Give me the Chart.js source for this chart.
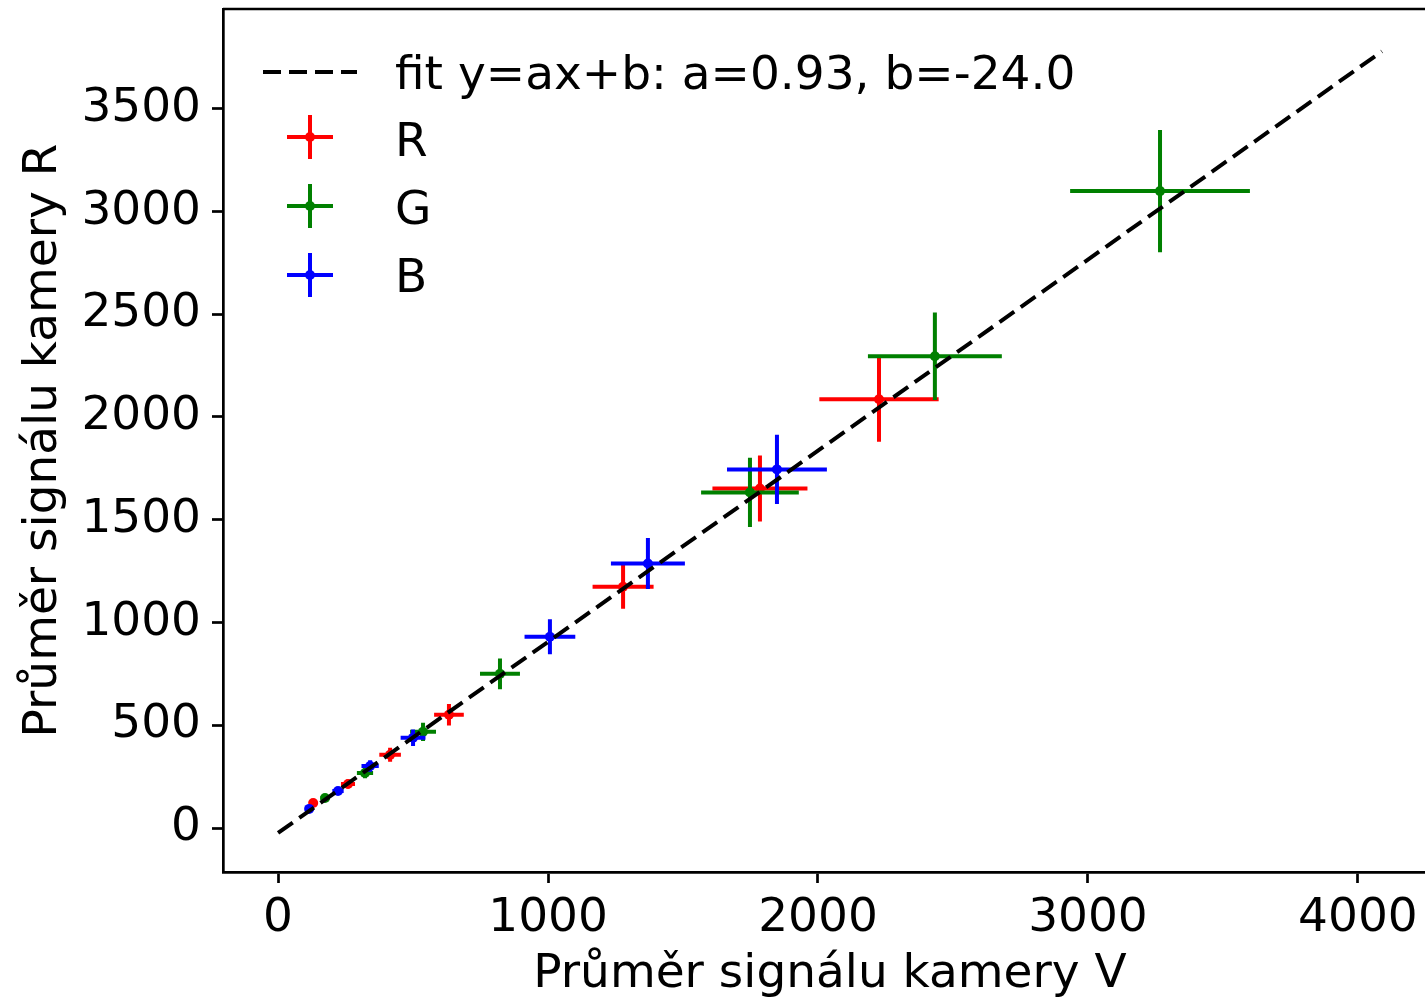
<!DOCTYPE html>
<html>
<head>
<meta charset="utf-8">
<script src="https://cdn.jsdelivr.net/npm/chart.js@4"></script>
<style>
html,body{margin:0;padding:0;background:#fff;overflow:hidden;}
canvas{display:block;}
</style>
</head>
<body>
<canvas id="c" width="1445" height="1002" style="width:1445px;height:1002px"></canvas>
<script>
// ---- data ----
const seriesNames = ['R', 'G', 'B'];
const seriesColors = ['#ff0000', '#008000', '#0000ff'];

const rX    = [130, 259, 415, 633, 1278, 1785, 2226];
const rY    = [122, 214, 356, 551, 1174, 1652, 2086];
const rXErr = [13, 26, 40, 55, 113, 176, 221];
const rYErr = [12, 21, 34, 52, 107, 161, 207];

const gX    = [174, 322, 537, 822, 1748, 2433, 3267];
const gY    = [146, 268, 468, 750, 1633, 2295, 3099];
const gXErr = [17, 30, 48, 74, 181, 248, 333];
const gYErr = [14, 26, 44, 75, 168, 213, 297];

const bX    = [115, 222, 341, 500, 1007, 1370, 1848];
const bY    = [93, 180, 302, 439, 931, 1287, 1745];
const bXErr = [12, 21, 32, 46, 94, 137, 185];
const bYErr = [10, 17, 28, 40, 85, 124, 168];

const fitA = 0.93;
const fitB = -24.0;
const fitXRange = [0, 4089];
const fitLabel = 'fit y=ax+b: a=0.93, b=-24.0';

const xTicks = [0, 1000, 2000, 3000, 4000];
const yTicks = [0, 500, 1000, 1500, 2000, 2500, 3000, 3500];
const xRange = [-204, 4293];
const yRange = [-214, 3985];

const xTitle = 'Průměr signálu kamery V';
const yTitle = 'Průměr signálu kamery R';

// ---- build datasets ----
function pts(xs, ys) { return xs.map((x, i) => ({x: x, y: ys[i]})); }
const allX = [rX, gX, bX], allY = [rY, gY, bY];
const allXE = [rXErr, gXErr, bXErr], allYE = [rYErr, gYErr, bYErr];

const FONT = "'DejaVu Sans', 'Liberation Sans', sans-serif";

const datasets = [{
  type: 'line',
  label: fitLabel,
  data: fitXRange.map(x => ({x: x, y: fitA * x + fitB})),
  borderColor: '#000',
  borderWidth: 4,
  borderDash: [18, 8],
  pointRadius: 0,
  showLine: true,
  fill: false,
  order: 0
}];
seriesNames.forEach((n, i) => {
  datasets.push({
    type: 'scatter',
    label: n,
    data: pts(allX[i], allY[i]),
    xErr: allXE[i],
    yErr: allYE[i],
    backgroundColor: seriesColors[i],
    borderColor: seriesColors[i],
    pointRadius: 5,
    pointBorderWidth: 0,
    order: 3 - i
  });
});

const errorBars = {
  id: 'errorBars',
  beforeDatasetDraw(chart, args) {
    const ds = chart.data.datasets[args.index];
    if (!ds.xErr) return;
    const xs = chart.scales.x, ys = chart.scales.y, ctx = chart.ctx;
    ctx.save();
    ctx.strokeStyle = ds.borderColor;
    ctx.lineWidth = 4;
    ctx.lineCap = 'butt';
    ds.data.forEach((p, i) => {
      const ex = ds.xErr[i], ey = ds.yErr[i];
      ctx.beginPath();
      ctx.moveTo(xs.getPixelForValue(p.x - ex), ys.getPixelForValue(p.y));
      ctx.lineTo(xs.getPixelForValue(p.x + ex), ys.getPixelForValue(p.y));
      ctx.moveTo(xs.getPixelForValue(p.x), ys.getPixelForValue(p.y - ey));
      ctx.lineTo(xs.getPixelForValue(p.x), ys.getPixelForValue(p.y + ey));
      ctx.stroke();
    });
    ctx.restore();
  }
};

const frameAndLegend = {
  id: 'frameAndLegend',
  afterDraw(chart) {
    const ctx = chart.ctx, a = chart.chartArea;
    ctx.save();
    ctx.strokeStyle = '#000';
    ctx.lineWidth = 2.7;
    ctx.beginPath();
    ctx.moveTo(a.left, a.top); ctx.lineTo(a.right, a.top); ctx.lineTo(a.right, a.bottom);
    ctx.stroke();

    // legend
    const L = a.left, T = a.top;
    ctx.font = '47px ' + FONT;
    ctx.fillStyle = '#000';
    ctx.textBaseline = 'alphabetic';
    ctx.textAlign = 'left';
    const dsets = chart.data.datasets;
    ctx.lineWidth = 4;
    ctx.setLineDash([18, 8]);
    ctx.beginPath();
    ctx.moveTo(L + 40, T + 63); ctx.lineTo(L + 134, T + 63);
    ctx.stroke();
    ctx.setLineDash([]);
    ctx.fillText(dsets[0].label, L + 172, T + 80);
    const rowsC = [128, 197, 266], rowsB = [147, 215, 283];
    for (let i = 1; i < dsets.length; i++) {
      const cy = T + rowsC[i - 1], cx = L + 87;
      ctx.strokeStyle = dsets[i].borderColor;
      ctx.lineWidth = 4;
      ctx.beginPath();
      ctx.moveTo(cx - 23, cy); ctx.lineTo(cx + 23, cy);
      ctx.moveTo(cx, cy - 22); ctx.lineTo(cx, cy + 22);
      ctx.stroke();
      ctx.fillStyle = dsets[i].borderColor;
      ctx.beginPath(); ctx.arc(cx, cy, 5, 0, Math.PI * 2); ctx.fill();
      ctx.fillStyle = '#000';
      ctx.fillText(dsets[i].label, L + 172, T + rowsB[i - 1]);
    }
    ctx.restore();
  }
};

const tickFont = {family: FONT, size: 47};
new Chart(document.getElementById('c'), {
  type: 'scatter',
  data: {datasets: datasets},
  plugins: [errorBars, frameAndLegend],
  options: {
    responsive: false,
    devicePixelRatio: 1,
    animation: false,
    layout: {padding: {left: 0, top: 9, right: 8, bottom: 0}},
    plugins: {legend: {display: false}, tooltip: {enabled: false}},
    scales: {
      x: {
        type: 'linear',
        min: xRange[0], max: xRange[1],
        afterFit(s) { s.height = 130; s.paddingLeft = 0; s.paddingRight = 0; },
        afterBuildTicks(s) { s.ticks = xTicks.map(v => ({value: v})); },
        grid: {drawOnChartArea: false, drawTicks: true, tickLength: 11, tickWidth: 2.7, tickColor: '#000'},
        border: {display: true, color: '#000', width: 2.7},
        ticks: {font: tickFont, color: '#000', padding: 8, maxRotation: 0, autoSkip: false,
                callback: v => String(v)},
        title: {display: true, text: xTitle, color: '#000',
                font: {family: FONT, size: 47, lineHeight: 1.15}, padding: {top: 0, bottom: 0}}
      },
      y: {
        type: 'linear',
        min: yRange[0], max: yRange[1],
        afterFit(s) { s.width = 223; s.paddingTop = 0; s.paddingBottom = 0; },
        afterBuildTicks(s) { s.ticks = yTicks.map(v => ({value: v})); },
        grid: {drawOnChartArea: false, drawTicks: true, tickLength: 11, tickWidth: 2.7, tickColor: '#000'},
        border: {display: true, color: '#000', width: 2.7},
        ticks: {font: tickFont, color: '#000', padding: 11, autoSkip: false,
                callback: v => String(v)},
        title: {display: true, text: yTitle, color: '#000',
                font: {family: FONT, size: 47, lineHeight: 1.15}, padding: {top: 17, bottom: 0}}
      }
    }
  }
});
</script>
</body>
</html>
